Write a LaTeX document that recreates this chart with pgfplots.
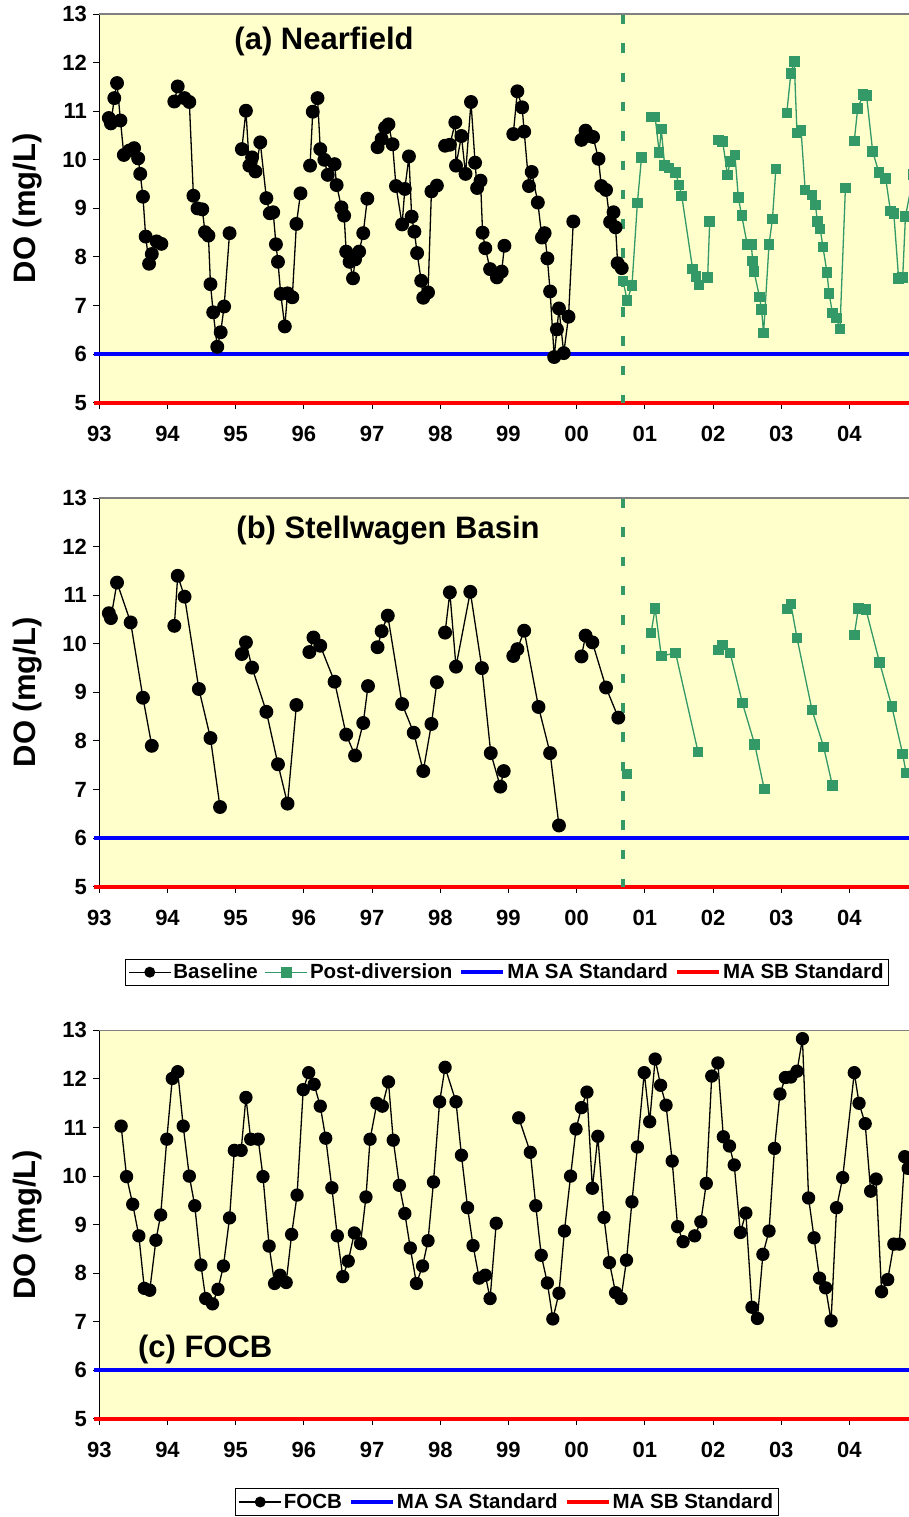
\documentclass[border=0pt]{standalone}
\usepackage{fontspec}
\setmainfont{Liberation Sans}
\usepackage{pgfplots}
\pgfplotsset{compat=1.18}
\definecolor{bgy}{RGB}{255,255,204}
\definecolor{pgreen}{RGB}{51,153,102}
\definecolor{sablue}{RGB}{0,0,255}
\definecolor{sbred}{RGB}{255,0,0}

\pgfplotsset{
 panel/.style={
  scale only axis, width=818.4pt, height=388.6pt,
  anchor=south west,
  xmin=1993, xmax=2005, ymin=5, ymax=13,
  axis x line*=bottom, axis y line*=left,
  axis line style={black, line width=1pt},
  axis background/.style={fill=bgy},
  xtick={1993,...,2004},
  xticklabels={93,94,95,96,97,98,99,00,01,02,03,04},
  ytick={5,...,13},
  yticklabels={5,6,7,8,9,10,11,12,13},
  tick align=outside, major tick length=6pt,
  tick style={black, line width=1pt},
  tick label style={font=\bfseries\fontsize{22}{22}\selectfont},
  xticklabel style={yshift=-14pt},
  yticklabel style={xshift=-3pt},
  ylabel={DO (mg/L)},
  every axis y label/.style={at={(axis description cs:-0.088,0.5)}, rotate=90, anchor=center, font=\bfseries\fontsize{31}{31}\selectfont},
  clip=false,
  unbounded coords=jump,
  legend image code/.code={\draw[mark repeat=2,mark phase=2,##1,mark size=4.8pt] plot coordinates {(0pt,0pt) (21pt,0pt) (42pt,0pt)};},
  legend style={anchor=center, legend columns=-1, draw=black, line width=0.8pt,
    font=\bfseries\fontsize{20.5}{20.5}\selectfont, inner sep=3pt,
    /tikz/every even column/.append style={column sep=5pt}},
 },
 base/.style={black, line width=1.3pt, mark=*, mark size=6.3pt, mark options={fill=black, solid}},
 post/.style={pgreen, line width=1.3pt, mark=square*, mark size=4.6pt, mark options={fill=pgreen, solid}},
 sa/.style={sablue, line width=4pt, no marks},
 sb/.style={sbred, line width=4pt, no marks},
 div/.style={pgreen, line width=4.5pt, dash pattern=on 9.5pt off 19.8pt, no marks},
}

\begin{document}
\begin{tikzpicture}[x=1pt,y=1pt]
\useasboundingbox (0,0) rectangle (909,1517);

% ---------------- Panel (a) ----------------
\begin{axis}[panel, at={(99.3pt,1114.3pt)}]
\addplot[sa, forget plot] coordinates {(1992.92,6) (2005,6)};
\addplot[sb, forget plot] coordinates {(1992.92,5) (2005,5)};
\addplot[div, forget plot] coordinates {(2000.68,13) (2000.68,5)};
\addplot[base] table {
x y
1993.14 10.86
1993.17 10.75
1993.22 11.27
1993.26 11.58
1993.31 10.81
1993.36 10.10
1993.44 10.19
1993.51 10.24
1993.57 10.03
1993.60 9.71
1993.64 9.24
1993.68 8.42
1993.73 7.86
1993.77 8.06
1993.84 8.32
1993.91 8.27
nan nan
1994.10 11.20
1994.15 11.51
1994.25 11.27
1994.32 11.19
1994.38 9.26
1994.44 9.00
1994.51 8.98
1994.55 8.51
1994.60 8.44
1994.63 7.44
1994.67 6.86
1994.73 6.15
1994.78 6.45
1994.83 6.98
1994.91 8.49
nan nan
1995.09 10.22
1995.15 11.01
1995.20 9.88
1995.24 10.05
1995.29 9.76
1995.36 10.36
1995.45 9.21
1995.50 8.90
1995.55 8.92
1995.59 8.26
1995.62 7.90
1995.66 7.24
1995.72 6.57
1995.76 7.25
1995.83 7.17
1995.89 8.68
1995.95 9.31
nan nan
1996.09 9.88
1996.13 10.99
1996.20 11.27
1996.24 10.22
1996.30 10.00
1996.35 9.69
1996.45 9.91
1996.48 9.48
1996.55 9.02
1996.59 8.85
1996.62 8.11
1996.67 7.90
1996.72 7.56
1996.75 7.95
1996.81 8.11
1996.87 8.49
1996.93 9.20
nan nan
1997.08 10.26
1997.14 10.43
1997.19 10.66
1997.24 10.73
1997.30 10.32
1997.35 9.46
1997.44 8.67
1997.48 9.40
1997.54 10.07
1997.58 8.83
1997.62 8.52
1997.66 8.08
1997.72 7.51
1997.75 7.16
1997.82 7.27
1997.87 9.35
1997.95 9.47
nan nan
1998.07 10.29
1998.14 10.31
1998.22 10.77
1998.23 9.88
1998.31 10.49
1998.37 9.71
1998.45 11.19
1998.51 9.94
1998.54 9.42
1998.59 9.57
1998.62 8.50
1998.66 8.18
1998.73 7.75
1998.83 7.58
1998.90 7.70
1998.94 8.23
nan nan
1999.07 10.53
1999.13 11.41
1999.20 11.08
1999.23 10.58
1999.30 9.46
1999.34 9.75
1999.43 9.12
1999.49 8.40
1999.53 8.49
1999.57 7.97
1999.61 7.29
1999.67 5.94
1999.71 6.51
1999.74 6.94
1999.81 6.02
1999.88 6.77
1999.95 8.73
nan nan
2000.07 10.41
2000.13 10.60
2000.19 10.49
2000.24 10.47
2000.32 10.02
2000.36 9.46
2000.43 9.38
2000.49 8.72
2000.54 8.92
2000.57 8.61
2000.60 7.87
2000.66 7.77
};
\addplot[post] table {
x y
2000.68 7.51
2000.74 7.10
2000.81 7.41
2000.89 9.11
2000.95 10.05
nan nan
2001.09 10.88
2001.15 10.88
2001.21 10.15
2001.24 10.63
2001.29 9.88
2001.35 9.83
2001.45 9.74
2001.50 9.48
2001.54 9.26
2001.70 7.75
2001.75 7.60
2001.79 7.42
2001.92 7.58
2001.95 8.73
nan nan
2002.08 10.41
2002.14 10.38
2002.21 9.69
2002.25 9.96
2002.32 10.10
2002.37 9.22
2002.42 8.85
2002.50 8.26
2002.56 8.26
2002.58 7.92
2002.60 7.70
2002.68 7.18
2002.71 6.92
2002.74 6.43
2002.82 8.26
2002.87 8.78
2002.92 9.81
nan nan
2003.08 10.96
2003.14 11.78
2003.19 12.02
2003.23 10.55
2003.29 10.60
2003.35 9.38
2003.45 9.28
2003.50 9.07
2003.53 8.73
2003.57 8.58
2003.61 8.21
2003.67 7.68
2003.70 7.25
2003.75 6.85
2003.81 6.74
2003.86 6.52
2003.94 9.42
nan nan
2004.07 10.39
2004.12 11.06
2004.20 11.34
2004.25 11.32
2004.34 10.17
2004.43 9.74
2004.53 9.62
2004.60 8.95
2004.65 8.89
2004.72 7.56
2004.78 7.58
2004.82 8.83
2004.94 9.70
};
\draw[gray, line width=1.5pt] (rel axis cs:0,1) -- (rel axis cs:1,1);
\node[font=\bfseries\fontsize{31}{31}\selectfont] at (axis description cs:0.2746,0.9287) {(a) Nearfield};
\end{axis}

% ---------------- Panel (b) ----------------
\begin{axis}[panel, at={(99.3pt,630.3pt)},
  legend style={at={(axis description cs:0.498,-0.22)}}]
\addplot[sa, forget plot] coordinates {(1992.92,6) (2005,6)};
\addplot[sb, forget plot] coordinates {(1992.92,5) (2005,5)};
\addplot[div, forget plot] coordinates {(2000.68,13) (2000.68,5)};
\addplot[base] table {
x y
1993.14 10.63
1993.17 10.53
1993.26 11.26
1993.46 10.44
1993.64 8.89
1993.77 7.90
nan nan
1994.10 10.37
1994.15 11.40
1994.25 10.97
1994.46 9.07
1994.63 8.06
1994.77 6.64
nan nan
1995.09 9.79
1995.15 10.03
1995.24 9.51
1995.45 8.60
1995.62 7.52
1995.76 6.71
1995.89 8.74
nan nan
1996.08 9.83
1996.14 10.13
1996.24 9.96
1996.45 9.22
1996.62 8.13
1996.75 7.70
1996.87 8.37
1996.94 9.13
nan nan
1997.08 9.93
1997.14 10.26
1997.23 10.58
1997.44 8.76
1997.61 8.17
1997.75 7.38
1997.87 8.35
1997.95 9.21
nan nan
1998.07 10.23
1998.14 11.06
1998.23 9.53
1998.44 11.07
1998.61 9.50
1998.74 7.75
1998.88 7.06
1998.93 7.38
nan nan
1999.07 9.75
1999.13 9.89
1999.23 10.27
1999.44 8.70
1999.61 7.75
1999.74 6.26
nan nan
2000.07 9.74
2000.13 10.17
2000.23 10.03
2000.43 9.10
2000.61 8.48
};
\addlegendentry{Baseline}
\addplot[post] table {
x y
2000.74 7.32
nan nan
2001.09 10.22
2001.15 10.73
2001.24 9.75
2001.45 9.81
2001.78 7.77
nan nan
2002.08 9.87
2002.14 9.98
2002.25 9.81
2002.43 8.78
2002.61 7.93
2002.75 7.01
nan nan
2003.08 10.72
2003.14 10.82
2003.23 10.12
2003.45 8.64
2003.62 7.88
2003.75 7.08
nan nan
2004.07 10.18
2004.13 10.73
2004.24 10.71
2004.44 9.62
2004.62 8.71
2004.78 7.73
2004.83 7.34
};
\addlegendentry{Post-diversion}
\addlegendimage{sa}
\addlegendentry{MA SA Standard}
\addlegendimage{sb}
\addlegendentry{MA SB Standard}
\draw[gray, line width=1.5pt] (rel axis cs:0,1) -- (rel axis cs:1,1);
\node[font=\bfseries\fontsize{31}{31}\selectfont] at (axis description cs:0.3528,0.916) {(b) Stellwagen Basin};
\end{axis}

% ---------------- Panel (c) ----------------
\begin{axis}[panel, at={(99.3pt,98pt)},
  legend style={at={(axis description cs:0.498,-0.2136)}}]
\addplot[sa, forget plot] coordinates {(1992.92,6) (2005,6)};
\addplot[sb, forget plot] coordinates {(1992.92,5) (2005,5)};
\addplot[base, mark size=6pt] table {
x y
1993.32 11.03
1993.40 9.99
1993.49 9.42
1993.58 8.77
1993.66 7.69
1993.74 7.65
1993.83 8.68
1993.90 9.20
1993.99 10.76
1994.07 12.01
1994.15 12.15
1994.23 11.03
1994.32 10.00
1994.40 9.39
1994.49 8.17
1994.56 7.48
1994.66 7.37
1994.74 7.67
1994.82 8.15
1994.91 9.14
1994.98 10.53
1995.08 10.53
1995.15 11.62
1995.22 10.76
1995.33 10.76
1995.40 9.99
1995.49 8.56
1995.57 7.79
1995.65 7.96
1995.74 7.81
1995.82 8.80
1995.90 9.61
1995.99 11.78
1996.07 12.13
1996.15 11.89
1996.24 11.44
1996.32 10.78
1996.41 9.76
1996.49 8.77
1996.57 7.93
1996.65 8.25
1996.74 8.83
1996.83 8.61
1996.91 9.57
1996.97 10.76
1997.07 11.50
1997.15 11.44
1997.24 11.94
1997.31 10.74
1997.40 9.81
1997.48 9.23
1997.56 8.52
1997.65 7.79
1997.74 8.15
1997.82 8.67
1997.90 9.88
1997.99 11.53
1998.07 12.24
1998.23 11.53
1998.31 10.43
1998.40 9.35
1998.48 8.57
1998.57 7.90
1998.66 7.96
1998.73 7.48
1998.82 9.03
nan nan
1999.15 11.20
1999.32 10.49
1999.40 9.39
1999.48 8.37
1999.57 7.80
1999.65 7.06
1999.74 7.59
1999.82 8.87
1999.91 10.00
1999.99 10.97
2000.07 11.41
2000.15 11.73
2000.23 9.75
2000.31 10.82
2000.40 9.15
2000.48 8.22
2000.57 7.60
2000.65 7.48
2000.73 8.27
2000.81 9.47
2000.89 10.60
2000.99 12.13
2001.07 11.12
2001.15 12.41
2001.23 11.87
2001.31 11.46
2001.40 10.31
2001.48 8.96
2001.56 8.65
2001.73 8.77
2001.82 9.06
2001.90 9.85
2001.98 12.06
2002.07 12.33
2002.15 10.81
2002.24 10.62
2002.31 10.23
2002.40 8.84
2002.48 9.24
2002.57 7.30
2002.65 7.07
2002.73 8.39
2002.82 8.87
2002.90 10.57
2002.98 11.69
2003.06 12.03
2003.14 12.04
2003.23 12.16
2003.31 12.83
2003.40 9.55
2003.48 8.73
2003.56 7.90
2003.65 7.70
2003.73 7.02
2003.81 9.35
2003.90 9.97
2004.07 12.13
2004.14 11.50
2004.23 11.08
2004.31 9.69
2004.39 9.94
2004.47 7.62
2004.56 7.87
2004.65 8.60
2004.73 8.60
2004.81 10.40
2004.86 10.16
};
\addlegendentry{FOCB}
\addlegendimage{sa}
\addlegendentry{MA SA Standard}
\addlegendimage{sb}
\addlegendentry{MA SB Standard}
\draw[gray, line width=1.5pt] (rel axis cs:0,1) -- (rel axis cs:1,1);
\node[font=\bfseries\fontsize{31}{31}\selectfont] at (axis description cs:0.1294,0.1776) {(c) FOCB};
\end{axis}
\end{tikzpicture}
\end{document}
